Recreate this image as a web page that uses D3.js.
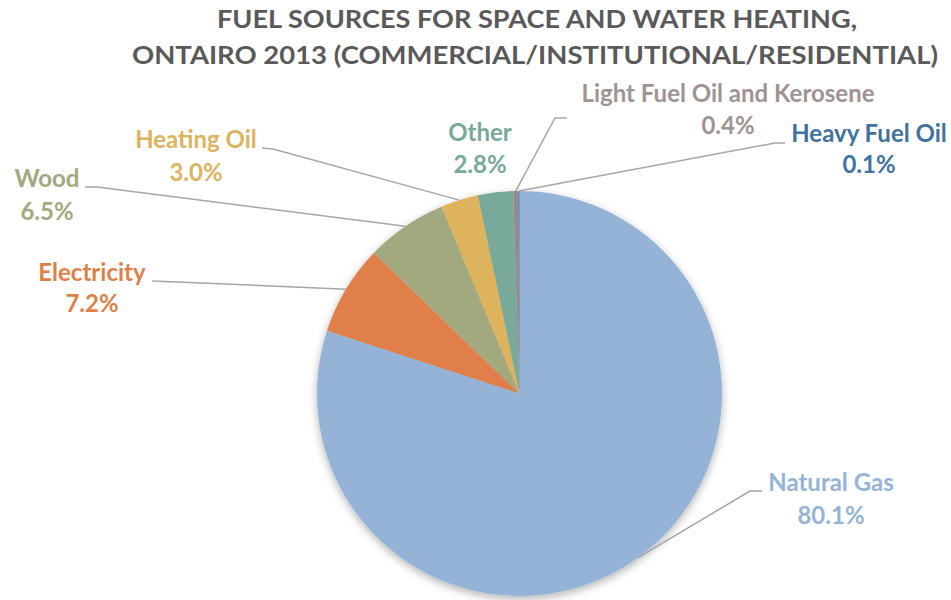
<!DOCTYPE html>
<html>
<head>
<meta charset="utf-8">
<script src="https://cdn.jsdelivr.net/npm/d3@7"></script>
<style>
  html, body { margin: 0; padding: 0; background: #ffffff; }
  svg { display: block; }
  text { font-family: Lato, "Open Sans", sans-serif; font-weight: 700; }
</style>
</head>
<body>
<svg id="chart" width="951" height="600"></svg>
<script>
// ---- data ----
const categories = ["Natural Gas", "Electricity", "Wood", "Heating Oil", "Other", "Light Fuel Oil and Kerosene", "Heavy Fuel Oil"];
const values = [80.1, 7.2, 6.5, 3.0, 2.8, 0.4, 0.1];
const titleLines = ["FUEL SOURCES FOR SPACE AND WATER HEATING,", "ONTAIRO 2013 (COMMERCIAL/INSTITUTIONAL/RESIDENTIAL)"];

// ---- styling / layout ----
const sliceColors = ["#95B3D7", "#E07F48", "#A3A97F", "#DDB35D", "#78A99A", "#978A8D", "#4A7BAE"];
const labelColors = ["#95B3D7", "#E07F48", "#A3A97F", "#DDB35D", "#78A99A", "#A09293", "#41729F"];
// label anchor (center x, name baseline, pct baseline), leader elbow and end (null = no line)
const labelLayout = [
  {x: 831, y1: 491, y2: 524, elbow: [750, 491], end: [762, 491]},
  {x: 92,  y1: 281, y2: 312, elbow: [152, 281], end: [152, 281]},
  {x: 47,  y1: 187, y2: 220, elbow: [97, 187],  end: [85, 187]},
  {x: 196, y1: 148, y2: 181, elbow: [273, 149], end: [262, 148]},
  {x: 480, y1: 141, y2: 173, elbow: null, end: null},
  {x: 728, y1: 102, y2: 134, elbow: [555, 118], end: [567, 118]},
  {x: 869, y1: 142, y2: 173, elbow: [775, 143], end: [785, 143]}
];

const W = 951, H = 600;
const cx = 519.5, cy = 393.5, R = 202.5;

const svg = d3.select("#chart");

const defs = svg.append("defs");
const f = defs.append("filter").attr("id", "shadow")
  .attr("x", "-10%").attr("y", "-10%").attr("width", "120%").attr("height", "120%");
f.append("feDropShadow").attr("dx", 0).attr("dy", 3).attr("stdDeviation", 4)
  .attr("flood-color", "#000").attr("flood-opacity", 0.3);

// title
svg.append("g").selectAll("text").data(titleLines).join("text")
  .attr("x", (d, i) => [537, 535][i])
  .attr("y", (d, i) => [28, 64][i])
  .attr("text-anchor", "middle")
  .attr("font-size", 24)
  .attr("fill", "#595959")
  .attr("textLength", (d, i) => [640, 806][i])
  .attr("lengthAdjust", "spacingAndGlyphs")
  .text(d => d);

const color = d3.scaleOrdinal().domain(categories).range(sliceColors);
const lcolor = d3.scaleOrdinal().domain(categories).range(labelColors);

const pie = d3.pie().sort(null).value(d => d.value);
const arcs = pie(categories.map((c, i) => ({name: c, value: values[i]})));
const arc = d3.arc().innerRadius(0).outerRadius(R);

const g = svg.append("g").attr("transform", `translate(${cx},${cy})`);
g.append("g").attr("filter", "url(#shadow)")
  .selectAll("path").data(arcs).join("path")
  .attr("d", arc)
  .attr("fill", d => color(d.data.name));

// leader lines
const lines = svg.append("g");
arcs.forEach((a, i) => {
  const L = labelLayout[i];
  if (!L.elbow) return;
  const mid = (a.startAngle + a.endAngle) / 2;
  const edge = [cx + R * Math.sin(mid), cy - R * Math.cos(mid)];
  lines.append("path")
    .attr("d", d3.line()([edge, L.elbow, L.end]))
    .attr("fill", "none")
    .attr("stroke", "#A6A6A6")
    .attr("stroke-width", 1.5);
});

// labels
const fmt = d3.format(".1f");
const lab = svg.append("g");
arcs.forEach((a, i) => {
  const L = labelLayout[i];
  const t = lab.append("g").attr("fill", lcolor(a.data.name)).attr("font-size", 24);
  t.append("text").attr("x", L.x).attr("y", L.y1).attr("text-anchor", "middle").text(a.data.name);
  t.append("text").attr("x", L.x).attr("y", L.y2).attr("text-anchor", "middle").text(fmt(values[i]) + "%");
});
</script>
</body>
</html>
